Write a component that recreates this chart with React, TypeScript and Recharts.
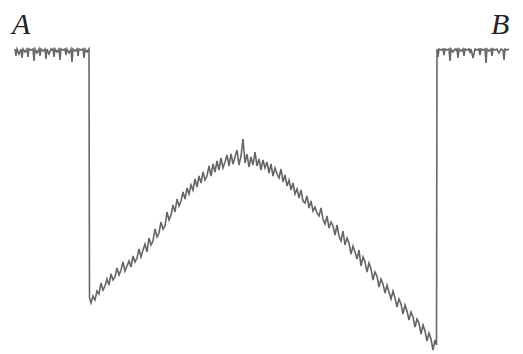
import { LineChart, Line, XAxis, YAxis } from 'recharts';

// trace position (x) and depth of the trace (larger = lower on the plot)
const plateauA: [number, number][] = [
  [15, 49], [16, 56], [17, 49], [19, 54], [21, 49], [22, 58], [23, 49], [25, 52],
  [27, 49], [28, 57], [29, 49], [31, 50], [33, 49], [34, 61], [35, 49], [37, 53],
  [39, 49], [40, 56], [41, 49], [43, 51], [45, 49], [46, 59], [47, 49], [49, 54],
  [51, 49], [52, 50], [53, 49], [54, 57], [55, 49], [57, 52], [59, 49], [60, 60],
  [61, 49], [63, 50], [65, 49], [66, 55], [67, 49], [69, 53], [71, 49], [72, 62],
  [73, 49], [75, 51], [77, 49], [78, 56], [79, 49], [81, 50], [83, 49], [84, 58],
  [85, 49], [87, 52], [89, 49],
];

const slope: [number, number][] = [
  [89.5, 298], [91, 303], [93, 296], [95, 300], [97, 291], [99, 294], [101, 283],
  [103, 290], [105, 286], [107, 279], [109, 285], [111, 274], [113, 280], [115, 277],
  [117, 268], [119, 275], [121, 270], [123, 262], [125, 271], [127, 266], [129, 261],
  [131, 267], [133, 256], [135, 262], [137, 258], [139, 249], [141, 257], [143, 250],
  [145, 244], [147, 252], [149, 238], [151, 245], [153, 241], [155, 229], [157, 237],
  [159, 233], [161, 222], [163, 229], [165, 226], [167, 212], [169, 220], [171, 215],
  [173, 205], [175, 212], [177, 199], [179, 206], [181, 201], [183, 192], [185, 199],
  [187, 188], [189, 194], [191, 185], [193, 190], [195, 179], [197, 187], [199, 176],
  [201, 183], [203, 172], [205, 180], [207, 176], [209, 166], [211, 176], [213, 164],
  [215, 172], [217, 161], [219, 170], [221, 158], [223, 168], [225, 162], [227, 155],
  [229, 166], [231, 154], [233, 164], [235, 157], [237, 150], [239, 165], [241, 156],
  [243, 139], [245, 163], [247, 154], [249, 167], [251, 157], [253, 165], [255, 152],
  [257, 166], [259, 159], [261, 170], [263, 160], [265, 168], [267, 162], [269, 173],
  [271, 164], [273, 176], [275, 168], [277, 174], [279, 178], [281, 169], [283, 182],
  [285, 175], [287, 186], [289, 180], [291, 190], [293, 183], [295, 194], [297, 189],
  [299, 198], [301, 190], [303, 201], [305, 203], [307, 196], [309, 208], [311, 201],
  [313, 211], [315, 207], [317, 213], [319, 216], [321, 208], [323, 219], [325, 224],
  [327, 216], [329, 228], [331, 222], [333, 226], [335, 235], [337, 225], [339, 236],
  [341, 241], [343, 231], [345, 245], [347, 238], [349, 243], [351, 254], [353, 246],
  [355, 252], [357, 259], [359, 250], [361, 266], [363, 257], [365, 262], [367, 272],
  [369, 263], [371, 269], [373, 280], [375, 272], [377, 276], [379, 287], [381, 279],
  [383, 284], [385, 293], [387, 285], [389, 292], [391, 299], [393, 291], [395, 298],
  [397, 307], [399, 299], [401, 304], [403, 314], [405, 305], [407, 311], [409, 320],
  [411, 312], [413, 317], [415, 327], [417, 319], [419, 323], [421, 334], [423, 325],
  [425, 331], [427, 341], [429, 333], [431, 339], [433, 350], [435, 340], [436.5, 345],
];

const plateauB: [number, number][] = [
  [437, 49], [438, 57], [439, 49], [441, 50], [443, 49], [444, 55], [445, 49], [447, 50],
  [449, 49], [450, 61], [451, 49], [453, 52], [455, 49], [456, 50], [457, 49], [458, 58],
  [459, 49], [461, 51], [463, 49], [464, 56], [465, 49], [467, 50], [469, 49], [470, 53],
  [471, 49], [473, 58], [475, 49], [477, 50], [479, 49], [480, 55], [481, 49], [483, 50],
  [485, 49], [486, 63], [487, 49], [489, 51], [491, 49], [492, 56], [493, 49], [495, 50],
  [497, 49], [499, 53], [501, 49], [503, 50], [504, 60], [505, 49], [507, 50], [509, 49],
];

const labels = [
  { text: 'A', left: 12 },
  { text: 'B', left: 491 },
];

const data = [...plateauA, ...slope, ...plateauB].map(([x, depth]) => ({ x, depth }));

export default function App() {
  return (
    <div style={{ position: 'absolute', left: 0, top: 0, width: 523, height: 354, background: '#fff' }}>
      <LineChart width={523} height={354} data={data} margin={{ top: 0, right: 0, bottom: 0, left: 0 }}>
        <XAxis dataKey="x" type="number" domain={[0, 523]} hide />
        <YAxis type="number" domain={[0, 354]} reversed hide />
        <Line
          type="linear"
          dataKey="depth"
          stroke="#666"
          strokeWidth={1.6}
          dot={false}
          activeDot={false}
          isAnimationActive={false}
        />
      </LineChart>
      {labels.map((l) => (
        <span
          key={l.text}
          style={{
            position: 'absolute',
            left: l.left,
            top: 8,
            fontFamily: '"Liberation Serif", "DejaVu Serif", serif',
            fontStyle: 'italic',
            fontSize: 30,
            lineHeight: '32px',
            color: '#222',
          }}
        >
          {l.text}
        </span>
      ))}
    </div>
  );
}
